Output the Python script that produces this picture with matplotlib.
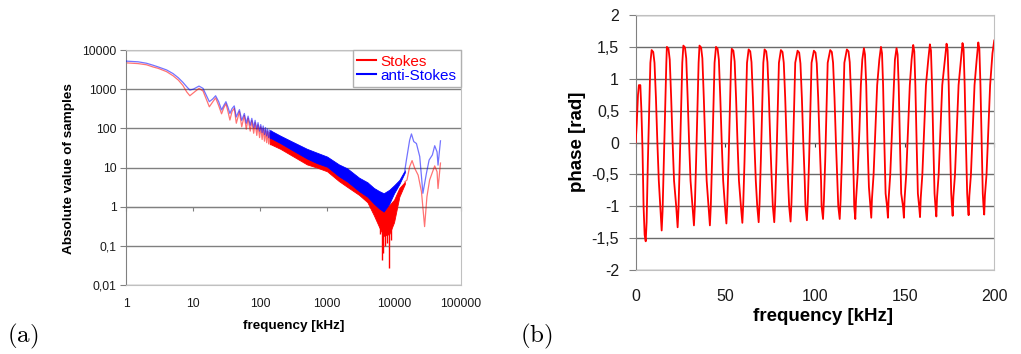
import matplotlib
matplotlib.use("Agg")
import matplotlib.pyplot as plt
from matplotlib.lines import Line2D
from matplotlib.ticker import NullLocator

plt.rcParams['font.family'] = ['Liberation Sans', 'DejaVu Sans']
plt.rcParams['mathtext.fontset'] = 'cm'

# ---- panel (a): spectrum magnitude, low frequency part (single lines)
low_f = [1, 1.5, 2, 2.5, 3, 4, 5, 6, 7, 8, 8.9, 10, 12.2, 14, 17.4, 19.5, 21.6, 24,
         26.5, 28.5, 30.8, 33, 35.3, 38, 41, 44, 49, 53, 58, 62, 66, 71, 75, 80,
         84, 89, 93, 98, 102, 107, 111, 116, 120, 125, 129, 134, 138, 142, 147]
anti_low = [5200, 5000, 4600, 4100, 3700, 3100, 2500, 1950, 1500, 1150, 950, 1000,
            1200, 1050, 480, 560, 680, 480, 295, 380, 480, 350, 240, 320, 375, 195,
            300, 160, 240, 135, 205, 120, 180, 105, 160, 95, 140, 85, 125,
            78, 115, 70, 105, 64, 97, 58, 90, 54, 85]
stokes_low = [4700, 4500, 4200, 3700, 3400, 2800, 2200, 1700, 1250, 850, 680, 800,
              1050, 900, 355, 470, 600, 380, 235, 330, 425, 270, 163, 270, 325, 135,
              265, 110, 212, 95, 180, 85, 158, 75, 140, 66, 123, 58, 110,
              52, 100, 47, 92, 43, 85, 40, 78, 38, 72]

# dense oscillating part, drawn as envelopes
band_f = [140, 200, 300, 500, 700, 1000, 1500, 2000, 3000, 4000, 5000, 6000,
          7000, 8500, 10000, 12000, 14500]
anti_hi = [90, 65, 46, 30, 24, 19, 12, 9.5, 5.5, 4.2, 3.0, 2.5, 2.2, 2.7, 3.5, 4.8, 8.5]
anti_lo = [58, 42, 28, 17, 13, 10.5, 6, 4.4, 2.5, 1.8, 1.2, 0.9, 0.75, 1.2, 2.2, 3.8, 7.5]
stokes_hi = [76, 55, 38, 24, 19, 15, 9, 7, 4, 3, 1.9, 1.4, 1.0, 1.1, 1.5, 3.0, 4.3]
stokes_lo = [40, 30, 20, 12, 10, 8, 4.5, 3.2, 2.0, 1.3, 0.6, 0.3, 0.18, 0.2, 0.4, 1.8, 3.8]

# deep red spikes near the minimum
spike_f = [6200, 6500, 6900, 7300, 7900, 8500, 9000]
spike_lo = [0.2, 0.044, 0.064, 0.1, 0.12, 0.027, 0.14]
spike_hi = [0.5, 0.4, 0.3, 0.3, 0.3, 0.3, 0.35]

# high frequency tail
anti_tail_f = [14500, 15300, 17100, 18200, 19700, 21600, 24200, 27000, 30400, 33400,
               37400, 40500, 43900, 45400, 49400]
anti_tail = [8.5, 15.5, 50, 72, 46, 41, 19, 2.2, 7, 15.5, 21, 36, 25, 11.5, 48]
stokes_tail_f = [14500, 15600, 17100, 18600, 20400, 22900, 25700, 28600, 31000, 34000,
                 40500, 43900, 45400, 49400]
stokes_tail = [4.3, 4.8, 10.5, 15, 9.5, 6.4, 2.4, 0.31, 1.8, 4.8, 11, 7.8, 2.9, 13]

a_yticks = [0.01, 0.1, 1, 10, 100, 1000, 10000]
a_ylabels = ['0,01', '0,1', '1', '10', '100', '1000', '10000']
a_xticks = [1, 10, 100, 1000, 10000, 100000]
a_xlabels = ['1', '10', '100', '1000', '10000', '100000']

# ---- panel (b): phase
phase_f = [0, 0.6, 1.3, 1.8, 2.6, 3.2, 3.8, 4.4, 5.0,
           5.6, 6.1, 6.8, 7.5, 8.2, 8.9, 9.8, 10.5, 11.3, 12.1, 12.9, 13.7,
           14.5, 15.0, 15.7, 16.4, 17.1, 17.4, 18.3, 19.0, 19.8, 20.6, 21.4, 22.6,
           23.4, 23.9, 24.6, 25.3, 26.0, 26.6, 27.5, 28.2, 29.0, 29.8, 30.6, 31.7,
           32.5, 33.0, 33.7, 34.4, 35.1, 35.6, 36.5, 37.2, 38.0, 38.8, 39.6, 40.6,
           41.4, 41.9, 42.6, 43.3, 44.0, 44.8, 45.7, 46.4, 47.2, 48.0, 48.8, 49.8,
           50.6, 51.1, 51.8, 52.5, 53.2, 53.6, 54.5, 55.2, 56.0, 56.8, 57.6, 58.7,
           59.5, 60.0, 60.7, 61.4, 62.1, 63.0, 63.9, 64.6, 65.4, 66.2, 67.0, 67.8,
           68.6, 69.1, 69.8, 70.5, 71.2, 71.9, 72.8, 73.5, 74.3, 75.1, 75.9, 76.5,
           77.3, 77.8, 78.5, 79.2, 79.9, 81.0, 81.9, 82.6, 83.4, 84.2, 85.0, 85.6,
           86.4, 86.9, 87.6, 88.3, 89.0, 90.3, 91.2, 91.9, 92.7, 93.5, 94.3, 94.7,
           95.5, 96.0, 96.7, 97.4, 98.1, 99.4, 100.3, 101.0, 101.8, 102.6, 103.4, 103.7,
           104.5, 105.0, 105.7, 106.4, 107.1, 108.5, 109.4, 110.1, 110.9, 111.7, 112.5, 113.0,
           113.8, 114.3, 115.0, 115.7, 116.4, 117.8, 118.7, 119.4, 120.2, 121.0, 121.6, 121.9,
           122.5, 122.9, 123.8, 124.8, 125.6, 126.4, 127.3, 127.9, 128.6, 129.3, 130.1, 130.9,
           131.4, 131.8, 132.7, 133.7, 134.7, 135.9, 136.8, 137.4, 138.0, 138.7, 139.4, 140.2,
           140.7, 141.1, 142.0, 143.0, 144.0, 144.6, 145.5, 146.1, 146.7, 147.4, 148.1, 149.1,
           149.6, 150.0, 150.9, 151.9, 152.9, 153.9, 154.8, 155.4, 156.0, 156.7, 157.4, 158.1,
           158.6, 159.0, 159.9, 160.9, 161.9, 163.2, 164.1, 164.7, 165.3, 166.0, 166.7, 167.2,
           167.7, 168.1, 169.0, 170.0, 171.0, 172.5, 173.4, 174.0, 174.6, 175.3, 176.0, 176.4,
           176.8, 177.2, 178.1, 179.1, 180.1, 181.4, 182.3, 182.9, 183.5, 184.2, 184.9, 185.3,
           185.7, 186.1, 187.0, 188.0, 189.0, 190.2, 191.1, 191.7, 192.3, 193.0, 193.6, 194.0,
           194.4, 194.8, 195.7, 196.7, 197.7, 199.0, 200.0]
phase_v = [0, 0.3, 0.75, 0.9, 0.9, 0.5, -0.1, -1.0, -1.45,
           -1.55, -1.25, -0.3, 0.5, 1.25, 1.45, 1.42, 1.25, 0.7, 0.0, -0.6, -1.0,
           -1.38, -1.08, -0.3, 0.5, 1.25, 1.50, 1.47, 1.30, 0.7, 0.0, -0.6, -1.0,
           -1.33, -1.03, -0.3, 0.5, 1.25, 1.52, 1.49, 1.32, 0.7, 0.0, -0.6, -1.0,
           -1.30, -1.0, -0.3, 0.5, 1.25, 1.52, 1.49, 1.32, 0.7, 0.0, -0.6, -1.0,
           -1.30, -1.0, -0.3, 0.5, 1.25, 1.50, 1.47, 1.30, 0.7, 0.0, -0.6, -1.0,
           -1.27, -0.97, -0.3, 0.5, 1.25, 1.47, 1.44, 1.27, 0.7, 0.0, -0.6, -1.0,
           -1.26, -0.96, -0.3, 0.5, 1.25, 1.46, 1.43, 1.26, 0.7, 0.0, -0.6, -1.0,
           -1.25, -0.95, -0.3, 0.5, 1.25, 1.46, 1.43, 1.26, 0.7, 0.0, -0.6, -1.0,
           -1.25, -0.95, -0.3, 0.5, 1.25, 1.45, 1.42, 1.25, 0.7, 0.0, -0.6, -1.0,
           -1.24, -0.94, -0.3, 0.5, 1.25, 1.44, 1.41, 1.24, 0.7, 0.0, -0.6, -1.0,
           -1.22, -0.92, -0.3, 0.5, 1.25, 1.44, 1.41, 1.24, 0.7, 0.0, -0.6, -1.0,
           -1.20, -0.9, -0.3, 0.5, 1.25, 1.45, 1.42, 1.25, 0.7, 0.0, -0.6, -1.0,
           -1.20, -0.9, -0.3, 0.5, 1.25, 1.46, 1.43, 1.26, 0.7, 0.0, -0.6, -1.0,
           -1.20, -0.9, -0.5, 0.2, 0.9, 1.3, 1.48, 1.38, 0.9, 0.0, -0.7, -1.0,
           -1.18, -0.88, -0.5, 0.2, 0.9, 1.3, 1.50, 1.40, 0.9, 0.0, -0.8, -1.0,
           -1.18, -0.88, -0.5, 0.2, 0.9, 1.3, 1.48, 1.38, 0.9, 0.0, -0.8, -1.0,
           -1.18, -0.88, -0.5, 0.2, 0.9, 1.3, 1.53, 1.43, 0.9, 0.0, -0.8, -1.0,
           -1.17, -0.87, -0.5, 0.2, 0.9, 1.3, 1.54, 1.44, 0.9, 0.0, -0.8, -1.0,
           -1.16, -0.86, -0.5, 0.2, 0.9, 1.3, 1.55, 1.45, 0.9, 0.0, -0.8, -1.0,
           -1.15, -0.85, -0.5, 0.2, 0.9, 1.3, 1.56, 1.46, 0.9, 0.0, -0.8, -1.0,
           -1.14, -0.84, -0.5, 0.2, 0.9, 1.3, 1.57, 1.47, 0.9, 0.0, -0.8, -1.0,
           -1.13, -0.83, -0.5, 0.2, 0.9, 1.4, 1.60]

b_yticks = [-2, -1.5, -1, -0.5, 0, 0.5, 1, 1.5, 2]
b_ylabels = ['-2', '-1,5', '-1', '-0,5', '0', '0,5', '1', '1,5', '2']
b_xticks = [0, 50, 100, 150, 200]

RED = '#ff0000'
BLUE = '#0000ff'
GRID = '#808080'
BORDER = '#c0c0c0'

fig = plt.figure(figsize=(10.21, 3.54), dpi=100)

# ================= (a)
ax = fig.add_axes([0.1237, 0.1949, 0.3278, 0.6638])
ax.set_xscale('log')
ax.set_yscale('log')
ax.set_xlim(1, 100000)
ax.set_ylim(0.01, 10000)

ax.fill_between(band_f, stokes_lo, stokes_hi, color=RED, lw=0.6, zorder=2)
ax.vlines(spike_f, spike_lo, spike_hi, color=RED, lw=1.0, zorder=2)
ax.plot(low_f, stokes_low, color=RED, lw=0.9, alpha=0.55, zorder=2)
ax.plot(stokes_tail_f, stokes_tail, color=RED, lw=0.9, alpha=0.55, zorder=2)
ax.fill_between(band_f, anti_lo, anti_hi, color=BLUE, lw=0.6, zorder=3)
ax.plot(low_f, anti_low, color=BLUE, lw=0.9, alpha=0.55, zorder=3)
ax.plot(anti_tail_f, anti_tail, color=BLUE, lw=0.9, alpha=0.55, zorder=3)

ax.set_yticks(a_yticks)
ax.set_yticklabels(a_ylabels)
ax.set_xticks(a_xticks)
ax.set_xticklabels(a_xlabels)
ax.xaxis.set_minor_locator(NullLocator())
ax.yaxis.set_minor_locator(NullLocator())
ax.grid(axis='y', color=GRID, lw=1.0)
ax.set_axisbelow(True)
ax.tick_params(axis='x', length=0, pad=9.5, labelsize=8.7, labelcolor='#1a1a1a')
ax.tick_params(axis='y', length=4, color=GRID, pad=3, labelsize=8.7, labelcolor='#1a1a1a')
for s in ['top', 'right', 'bottom']:
    ax.spines[s].set_color(BORDER)
ax.spines['left'].set_color(GRID)

sec = ax.secondary_xaxis(1 / 3)
sec.set_xticks(a_xticks)
sec.xaxis.set_minor_locator(NullLocator())
sec.tick_params(length=3, color=GRID, labelbottom=False, labeltop=False)
sec.spines['bottom'].set_color(GRID)

ax.set_ylabel('Absolute value of samples', fontsize=9.7, fontweight='bold')
ax.yaxis.set_label_coords(-0.153, 0.496)
ax.set_xlabel('frequency [kHz]', fontsize=9.7, fontweight='bold')
ax.xaxis.set_label_coords(0.5, -0.149)

handles = [Line2D([], [], color=RED, lw=1.5), Line2D([], [], color=BLUE, lw=1.5)]
leg = ax.legend(handles, ['Stokes', 'anti-Stokes'], loc='upper right',
                bbox_to_anchor=(1, 1), borderaxespad=0, fontsize=11,
                handlelength=1.2, handletextpad=0.3, borderpad=0.3,
                labelspacing=0.0, fancybox=False, framealpha=1)
leg.get_frame().set_edgecolor('#b0b0b0')
leg.get_frame().set_linewidth(1.0)
for t, c in zip(leg.get_texts(), [RED, BLUE]):
    t.set_color(c)

# ================= (b)
bx = fig.add_axes([0.6226, 0.2373, 0.3512, 0.7203])
bx.plot(phase_f, phase_v, color=RED, lw=1.3, zorder=3)
bx.set_xlim(0, 200)
bx.set_ylim(-2, 2)
bx.set_yticks(b_yticks)
bx.set_yticklabels(b_ylabels)
bx.set_xticks(b_xticks)
bx.grid(axis='y', color='#6a6a6a', lw=1.0)
bx.set_axisbelow(True)
bx.tick_params(axis='x', length=0, pad=14, labelsize=11.5, labelcolor='#1a1a1a')
bx.tick_params(axis='y', length=5, color=GRID, pad=7, labelsize=11.5, labelcolor='#1a1a1a')
for s in ['top', 'right', 'bottom']:
    bx.spines[s].set_color(BORDER)
bx.spines['left'].set_color(GRID)

sec_b = bx.secondary_xaxis(0.5 - 1e-9)
sec_b.set_xticks(b_xticks)
sec_b.tick_params(length=3, color='#404040', labelbottom=False, labeltop=False)
sec_b.spines['bottom'].set_color('#6a6a6a')

bx.set_ylabel('phase [rad]', fontsize=13.5, fontweight='bold')
bx.yaxis.set_label_coords(-0.139, 0.503)
bx.set_xlabel('frequency [kHz]', fontsize=13.5, fontweight='bold')
bx.xaxis.set_label_coords(0.523, -0.149)

fig.text(7 / 1021, 0.0508, r'$\mathrm{(a)}$', fontsize=18, va='center', ha='left')
fig.text(520 / 1021, 0.0508, r'$\mathrm{(b)}$', fontsize=18, va='center', ha='left')

fig.savefig('out.png', dpi=100, facecolor='white')
